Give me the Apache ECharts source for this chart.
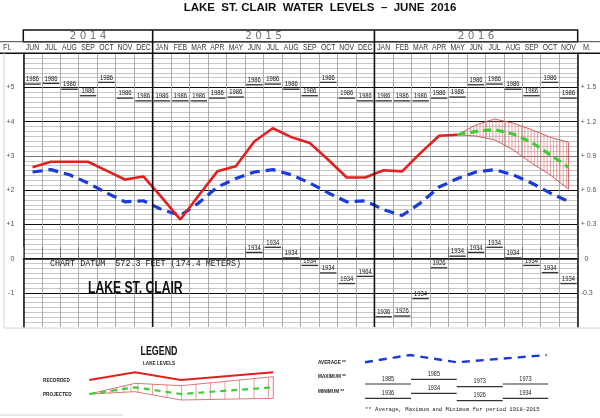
<!DOCTYPE html>
<html><head><meta charset="utf-8">
<script src="https://cdn.jsdelivr.net/npm/echarts@6/dist/echarts.min.js"></script>
<style>html,body{margin:0;padding:0;background:#fff}#c{width:600px;height:418px}</style>
</head><body><div id="c"></div>
<script>
// ---------- DATA ----------
const months = ['JUN','JUL','AUG','SEP','OCT','NOV','DEC','JAN','FEB','MAR','APR','MAY','JUN','JUL','AUG','SEP','OCT','NOV','DEC','JAN','FEB','MAR','APR','MAY','JUN','JUL','AUG','SEP','OCT','NOV'];
const yearLabels = ['2014','2015','2016'];
const yearMonthCounts = [7, 12, 11];
// recorded monthly mean levels (ft above chart datum), Jun 2014 - May 2016
const recorded = [2.67,2.83,2.83,2.83,2.57,2.31,2.40,1.78,1.14,1.85,2.55,2.70,3.42,3.81,3.55,3.38,2.89,2.37,2.37,2.58,2.55,3.09,3.59,3.62];
// long-term average
const average = [2.53,2.60,2.45,2.21,1.92,1.66,1.69,1.43,1.26,1.63,2.09,2.34,2.53,2.60,2.45,2.21,1.92,1.66,1.69,1.43,1.26,1.63,2.09,2.34,2.53,2.60,2.45,2.21,1.92,1.67];
// projection (starts at May 2016, month index 23)
const projectionStart = 23;
const projected = [3.62,3.72,3.77,3.64,3.40,3.04,2.67];
const projHigh  = [3.62,3.91,4.08,3.96,3.77,3.55,3.40];
const projLow   = [3.62,3.58,3.47,3.18,2.79,2.45,2.03];
// record maximum per month
const maxLevels = [5.10,5.12,4.95,4.76,5.15,4.69,4.61,4.61,4.61,4.61,4.69,4.72,5.08,5.10,4.95,4.76,5.15,4.69,4.61,4.61,4.61,4.61,4.69,4.72,5.08,5.10,4.95,4.76,5.15,4.69];
const maxYears  = ['1986','1986','1986','1986','1986','1986','1986','1986','1986','1986','1986','1986','1986','1986','1986','1986','1986','1986','1986','1986','1986','1986','1986','1986','1986','1986','1986','1986','1986','1986'];
// record minimum per month (not shown before Jun 2015)
const minLevels = [null,null,null,null,null,null,null,null,null,null,null,null,0.18,0.33,0.02,-0.20,-0.42,-0.73,-0.52,-1.70,-1.68,-1.17,-0.27,0.07,0.18,0.33,0.02,-0.20,-0.41,-0.73];
const minYears  = ['','','','','','','','','','','','','1934','1934','1934','1934','1934','1934','1964','1936','1926','1934','1926','1934','1934','1934','1934','1934','1934','1934'];
// axis tick labels
const ftTicks  = [-1, 0, 1, 2, 3, 4, 5];
const ftLabels = ['-1','0','+1','+2','+3','+4','+5'];
const mLabels  = ['-0.3','  0','+ 0.3','+ 0.6','+ 0.9','+ 1.2','+ 1.5'];

// ---------- CHART ----------
const SANS = "'Liberation Sans',Arial,sans-serif";
const chart = echarts.init(document.getElementById('c'), null, {renderer:'canvas'});

function stepRender(years){
  return function(params, api){
    const i = api.value(0), v = api.value(1);
    if (v == null || isNaN(v)) return null;
    const p0 = api.coord([i, v]), p1 = api.coord([i + 1, v]);
    return {type:'group', children:[
      {type:'line', shape:{x1:p0[0]+1, y1:p0[1], x2:p1[0]-1, y2:p1[1]}, style:{stroke:'#333', lineWidth:1.3}},
      {type:'text', x:(p0[0]+p1[0])/2, y:p0[1]-0.8, scaleX:0.78,
       style:{text:years[i], x:0, y:0, align:'center', verticalAlign:'bottom', font:'7.5px '+SANS, fill:'#111'}}
    ]};
  };
}

function interp(pts, x){
  for (let k=0;k<pts.length-1;k++){
    const a=pts[k], b=pts[k+1];
    if (x>=a[0]-0.001 && x<=b[0]+0.001){
      const t=(x-a[0])/(b[0]-a[0]||1);
      return a[1]+t*(b[1]-a[1]);
    }
  }
  return pts[pts.length-1][1];
}

const option = {
  animation:false,
  backgroundColor:'#fff',
  grid:{left:23.3, right:22.3, top:53.3, bottom:91, containLabel:false},
  xAxis:[
    {type:'value', min:0, max:30, interval:1, position:'bottom',
     axisLine:{show:false}, axisTick:{show:false}, axisLabel:{show:false},
     splitLine:{show:true, lineStyle:{color:'#999', width:0.8}}},
    {type:'category', data:months, position:'top', boundaryGap:true,
     axisLine:{show:true, lineStyle:{color:'#111', width:1.5}},
     axisTick:{show:true, interval:0, length:11.7, lineStyle:{color:'#777', width:1}},
     axisLabel:{show:false},
     splitLine:{show:false}}
  ],
  yAxis:[
    {type:'value', min:-2, max:6, interval:1, position:'left',
     axisLine:{show:true, lineStyle:{color:'#111', width:1.5}},
     axisTick:{show:false},
     axisLabel:{margin:9, fontSize:7, color:'#555', fontFamily:SANS,
       formatter:v=>{const k=ftTicks.indexOf(v);return k<0?'':ftLabels[k];}},
     splitLine:{show:true, showMinLine:false, lineStyle:{color:['#111','#111','#111','#111','#777','#111','#111','#111'], width:1.2}},
     minorTick:{show:false, splitNumber:7},
     minorSplitLine:{show:true, lineStyle:{color:'#b0b0b0', width:0.7}}},
    {type:'value', min:-2, max:6, interval:1, position:'right',
     axisLine:{show:true, lineStyle:{color:'#111', width:1.5}},
     axisTick:{show:false}, splitLine:{show:false},
     axisLabel:{margin:3, fontSize:7, color:'#555', fontFamily:SANS,
       formatter:v=>{const k=ftTicks.indexOf(v);return k<0?'':mLabels[k];}}}
  ],
  series:[
    {type:'custom', name:'band', xAxisIndex:0, yAxisIndex:0, z:2,
     data: projHigh.map((v,k)=>[projectionStart+k+0.5, v, projLow[k]]),
     encode:{x:0, y:[1,2]},
     renderItem:(params, api)=>{
       if (params.dataIndex!==0) return null;
       const up = projHigh.map((v,k)=>api.coord([projectionStart+k+0.5, v]));
       const lo = projLow.map((v,k)=>api.coord([projectionStart+k+0.5, v]));
       const ch=[];
       const x0=up[0][0], x1=up[up.length-1][0];
       for (let x=x0+3.2; x<x1; x+=3.2){
         ch.push({type:'line', shape:{x1:x, y1:interp(up,x), x2:x, y2:interp(lo,x)}, style:{stroke:'#e37a7a', lineWidth:0.7}});
       }
       ch.push({type:'polygon', shape:{points:up.concat(lo.slice().reverse())}, style:{fill:'none', stroke:'#c84040', lineWidth:0.8}});
       return {type:'group', children:ch};
     }},
    {type:'line', name:'average', xAxisIndex:0, yAxisIndex:0, z:3, symbol:'none',
     data: average.map((v,i)=>[i+0.5, v]),
     lineStyle:{color:'#1b3bd8', width:3.2, type:[10,6]}},
    {type:'line', name:'recorded', xAxisIndex:0, yAxisIndex:0, z:4, symbol:'none',
     data: recorded.map((v,i)=>[i+0.5, v]),
     lineStyle:{color:'#e51e1e', width:2.6}},
    {type:'line', name:'projected', xAxisIndex:0, yAxisIndex:0, z:5, symbol:'none',
     data: projected.map((v,k)=>[projectionStart+k+0.5, v]),
     lineStyle:{color:'#3ccf35', width:3.2, type:[8,5]}},
    {type:'custom', name:'max', xAxisIndex:0, yAxisIndex:0, z:3,
     data: maxLevels.map((v,i)=>[i, v==null?'-':v]), encode:{x:0,y:1},
     renderItem: stepRender(maxYears)},
    {type:'custom', name:'min', xAxisIndex:0, yAxisIndex:0, z:3,
     data: minLevels.map((v,i)=>[i, v==null?'-':v]), encode:{x:0,y:1},
     renderItem: stepRender(minYears)}
  ]
};
chart.setOption(option);

// ---------- header, annotations & legend (layout) ----------
const px = v => chart.convertToPixel({xAxisIndex:0}, v);
const py = v => chart.convertToPixel({yAxisIndex:0}, v);
const gTop = py(6), gBot = py(-2), gL = px(0), gR = px(30);
const yrTop = 30, yrBot = 41.7;
const G = [];
const line = (x1,y1,x2,y2,stroke,w)=>G.push({type:'line', silent:true, shape:{x1,y1,x2,y2}, style:{stroke, lineWidth:w}, z:100});
const text = (t,x,y,font,fill,align,extra)=>G.push(Object.assign({type:'text', silent:true, z:101, x, y, style:{text:t, x:0, y:0, font, fill, align:align||'left', verticalAlign:'middle'}}, extra||{}));

// header boxes
G.push({type:'rect', silent:true, z:100, shape:{x:gL, y:yrTop, width:gR-gL, height:yrBot-yrTop}, style:{fill:'none', stroke:'#111', lineWidth:1.5}});
line(0, yrBot, 600, yrBot, '#444', 1);
line(0, gTop, 600, gTop, '#111', 1.5);
let acc = 0;
yearLabels.forEach((y,k)=>{
  const a = acc, b = acc + yearMonthCounts[k];
  text(y.split('').join(' '), (px(a)+px(b))/2, (yrTop+yrBot)/2+0.5, "10px 'DejaVu Sans'", '#777', 'center', {scaleX:1.05});
  if (k>0) line(px(a), yrTop, px(a), gBot, '#111', 1.6);
  acc = b;
});
months.forEach((m,i)=>{
  text(m, (px(i)+px(i+1))/2, (yrBot+gTop)/2+0.3, '9px '+SANS, '#333', 'center', {scaleX:0.76});
});
text('Ft.', 3, (yrBot+gTop)/2, '8.5px '+SANS, '#444', 'left', {scaleX:0.85});
text('M.', 583, (yrBot+gTop)/2, '8.5px '+SANS, '#444', 'left', {scaleX:0.85});
// faint outer frame
line(4, gTop, 4, gBot+1, '#d4d4d4', 1);
line(4, gBot+1, 600, gBot+1, '#d4d4d4', 1);

// annotations
text('CHART DATUM  572.3 FEET (174.4 METERS)', 50, 264, "8.4px 'Liberation Mono','DejaVu Sans Mono',monospace", '#222');
text('LAKE ST. CLAIR', 88, 289, "bold 16px "+SANS, '#111', 'left', {scaleX:0.76});

// title
text('LAKE  ST. CLAIR  WATER  LEVELS  –  JUNE  2016', 320, 8, "bold 11.5px "+SANS, '#111', 'center');

// legend (left)
text('LEGEND', 159, 351.5, "bold 12px "+SANS, '#111', 'center', {scaleX:0.74});
text('LAKE LEVELS', 159, 363.5, "bold 5.5px "+SANS, '#222', 'center', {scaleX:0.85});
text('RECORDED', 43, 380, "bold 5.5px "+SANS, '#222', 'left', {scaleX:0.85});
text('PROJECTED', 43, 394, "bold 5.5px "+SANS, '#222', 'left', {scaleX:0.85});
G.push({type:'polyline', silent:true, z:100, shape:{points:[[89.3,380],[135,372.3],[181,380],[273.3,372.3]]}, style:{stroke:'#e51e1e', lineWidth:2, fill:null}});
const lgUp = [[89.3,394],[135,383.3],[181,385.7],[273.3,376.7]];
const lgLo = [[89.3,394],[135,391.7],[181,400],[273.3,398.3]];
for (let x=103; x<=274; x+= (x<135?7:14.5)){
  const xx = Math.min(x,273.3);
  line(xx, interp(lgUp,xx), xx, interp(lgLo,xx), '#e37a7a', 0.7);
}
G.push({type:'polygon', silent:true, z:100, shape:{points:lgUp.concat(lgLo.slice().reverse())}, style:{fill:'none', stroke:'#c84040', lineWidth:0.7}});
G.push({type:'polyline', silent:true, z:102, shape:{points:[[89.3,394],[135,387.3],[181,394],[273.3,387.3]]}, style:{stroke:'#3ccf35', lineWidth:2.2, lineDash:[6,5], fill:null}});
line(0, 415, 123, 415, '#d4d4d4', 1);

// legend (right)
text('AVERAGE **', 318, 362, "bold 5.5px "+SANS, '#222', 'left', {scaleX:0.85});
text('MAXIMUM **', 318, 376.5, "bold 5.5px "+SANS, '#222', 'left', {scaleX:0.85});
text('MINIMUM **', 318, 391.5, "bold 5.5px "+SANS, '#222', 'left', {scaleX:0.85});
G.push({type:'polyline', silent:true, z:100, shape:{points:[[365,362.3],[410,355],[456.7,362.3],[546.7,355]]}, style:{stroke:'#1b3bd8', lineWidth:2.4, lineDash:[8,6], fill:null}});
const lgMax = [[365,411,384,'1985'],[411,456.7,379.3,'1985'],[456.7,502.7,386.7,'1973'],[502.7,548.3,384,'1973']];
const lgMin = [[365,411,398.3,'1936'],[411,456.7,393.3,'1934'],[456.7,502.7,400.7,'1926'],[502.7,548.3,398.3,'1934']];
lgMax.concat(lgMin).forEach(s=>{
  line(s[0], s[2], s[1], s[2], '#333', 1.2);
  text(s[3], (s[0]+s[1])/2, s[2]-5, '6.5px '+SANS, '#222', 'center', {scaleX:0.85});
});
text('** Average, Maximum and Minimum for period 1918-2015', 365, 410, "5.6px 'Liberation Mono','DejaVu Sans Mono',monospace", '#222');

chart.setOption({graphic:{elements:G}});
</script>
</body></html>
